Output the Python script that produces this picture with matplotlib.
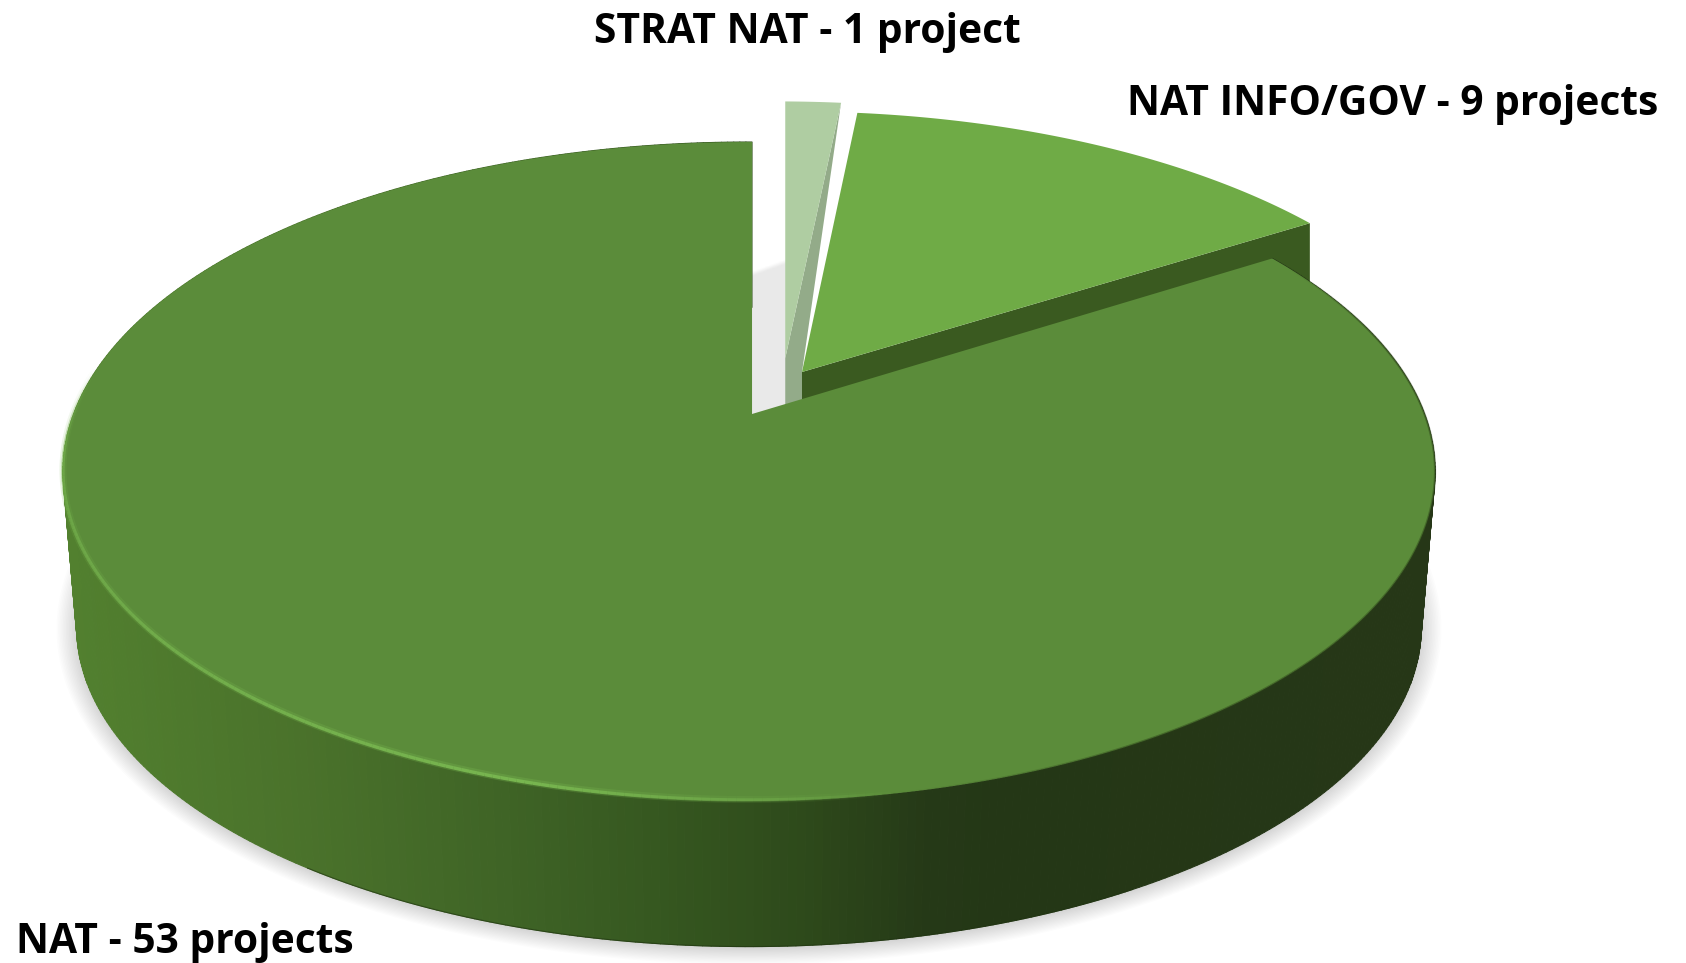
import numpy as np
import matplotlib
matplotlib.use("Agg")
import matplotlib.pyplot as plt
from matplotlib.collections import PolyCollection, LineCollection
from matplotlib.colors import to_rgb
from matplotlib.patches import Rectangle

# ---------- data ----------
categories = ["STRAT NAT", "NAT INFO/GOV", "NAT"]
projects = [1, 9, 53]
label_texts = ["STRAT NAT - 1 project", "NAT INFO/GOV - 9 projects", "NAT - 53 projects"]

# ---------- style ----------
TOP_COLORS = ["#AFCDA2", "#6FAB46", "#5B8C3A"]
WALL_COLORS = ["#93AB89", "#3A5A20"]
X0, R, K, Y0, P = 749.0, 675.5, 0.1745, 414.0, -247.2
START_ANGLE = 0.7
END_TRIM = 0.4
OFFSETS = [(0.0525, 0.18), (0.0803, 0.1346), (0.0, 0.0)]
MAIN_APEX_SHIFT = 0.0045
LOW_CX, LOW_SX, LOW_CY, LOW_SY, TOP_CY = 748.0, 0.98, 627.0, 0.97, 471.5


def project(u, v):
    d = 1 + K * v
    return X0 + R * u / d, (Y0 + P * v) / d


def rim(t0, t1, off=(0, 0), n=300):
    t = np.radians(np.linspace(t0, t1, n))
    return project(np.sin(t) + off[0], np.cos(t) + off[1]), np.degrees(t)


def lower(x, y):
    return LOW_CX + (x - LOW_CX) * LOW_SX, LOW_CY + (y - TOP_CY) * LOW_SY


values = np.array(projects, dtype=float)
edges = START_ANGLE + np.concatenate([[0], np.cumsum(values) / values.sum() * 360])

fig = plt.figure(figsize=(16.86, 9.63), dpi=100, facecolor="white")
ax = fig.add_axes([0, 0, 1, 1])
ax.set_xlim(0, 1686)
ax.set_ylim(963, 0)
ax.axis("off")

# ---------- soft shadow under the disk ----------
(mx, my), thetas = rim(edges[2], edges[3] - END_TRIM, n=500)
lx, ly = lower(mx, my)
(fx, fy), _ = rim(0, 360, n=500)
flx, fly = lower(fx, fy)
clip = Rectangle((0, 500), 1686, 463, transform=ax.transData)
for g in np.linspace(1, 0, 14):
    sx = LOW_CX + (flx - LOW_CX) * (1.0 + 0.03 * g)
    sy = LOW_CY + (fly - LOW_CY) * (1.0 + 0.05 * g) + 2
    patch = ax.fill(sx, sy, color="black", alpha=0.011, lw=0, zorder=1)[0]
    patch.set_clip_path(clip)

# ---------- shadow in the gap beside the small slice ----------
ma = project(MAIN_APEX_SHIFT, 0)
(sx, sy), _ = rim(edges[0], edges[1], OFFSETS[0], n=30)
sa = (sx[0], project(*OFFSETS[0])[1])
gap_h, gap_w = 120, 40
yy, xx = np.mgrid[0:1:gap_h * 1j, 0:1:gap_w * 1j]
alpha = 0.09 * np.clip(yy / 0.1, 0, 1) * np.clip((yy - 0.24) * 40 + (xx - 0.55) * 2.5, 0, 1)
img = np.zeros((gap_h, gap_w, 4))
img[..., 3] = alpha
ax.imshow(img, extent=(ma[0] - 1, sa[0], ma[1], ma[1] - 197), aspect="auto", zorder=1.5, interpolation="bilinear")
ax.set_xlim(0, 1686)
ax.set_ylim(963, 0)

# ---------- small exploded slice ----------
ia = project(*OFFSETS[1])
ax.fill([sx[-1], sa[0], sa[0], ia[0], ia[0]], [sy[-1], sa[1], sa[1] + 46, ia[1] + 30, ia[1]],
        color=WALL_COLORS[0], lw=0, zorder=2)
ax.fill(np.r_[sa[0], sx], np.r_[sa[1], sy], color=TOP_COLORS[0], lw=0, zorder=2.1)

# ---------- medium exploded slice ----------
(ix, iy), _ = rim(edges[1], edges[2], OFFSETS[1], n=120)
ax.fill([ia[0], ix[-1], ix[-1], ia[0]], [ia[1], iy[-1], iy[-1] + 160, ia[1] + 160],
        color=WALL_COLORS[1], lw=0, zorder=3)
ax.fill(np.r_[ia[0], ix], np.r_[ia[1], iy], color=TOP_COLORS[1], lw=0, zorder=3.1)

# ---------- wall of the large slice, shaded along x ----------
stop_x = [61, 300, 500, 650, 800, 930, 1000, 1434]
stop_c = ["#52802F", "#4A722B", "#3F6426", "#365820", "#2E4A1B", "#253917", "#243716", "#263717"]
stop_rgb = np.array([to_rgb(c) for c in stop_c])


def wall_color(x):
    return [np.interp(x, stop_x, stop_rgb[:, i]) for i in range(3)]


quads, cols = [], []
for i in range(len(mx) - 1):
    quads.append([(mx[i], my[i]), (mx[i + 1], my[i + 1]), (lx[i + 1], ly[i + 1]), (lx[i], ly[i])])
    cols.append(wall_color(0.5 * (mx[i] + mx[i + 1])))
ax.add_collection(PolyCollection(quads, facecolors=cols, edgecolors=cols, linewidths=0.8, zorder=4))

# thin dark line at the very bottom of the wall
ax.plot(lx[(thetas > 150) & (thetas < 215)], ly[(thetas > 150) & (thetas < 215)],
        color="#1F3310", lw=0.8, alpha=0.6, zorder=4.1)

# ---------- top of the large slice ----------
ax.fill(np.r_[ma[0], mx], np.r_[ma[1], my], color=TOP_COLORS[2], lw=0, zorder=5)

# ---------- light and dark rim along the front edge ----------
segs = np.stack([np.c_[mx[:-1], my[:-1]], np.c_[mx[1:], my[1:]]], axis=1)
mid_x = 0.5 * (mx[:-1] + mx[1:])
mid_t = 0.5 * (thetas[:-1] + thetas[1:])
front = np.interp(mid_t, [150, 170, 262, 278], [0, 1, 1, 0])
bright = np.interp(mid_x, [61, 150, 520, 800, 900], [0.55, 0.7, 1.0, 0.35, 0.0])
rgba = np.zeros((len(segs), 4))
rgba[:, :3] = to_rgb("#78B650")
rgba[:, 3] = bright * front
ax.add_collection(LineCollection(segs - np.array([0, 1.0]), colors=rgba, linewidths=2.4, zorder=5.2))
soft = rgba.copy()
soft[:, 3] *= 0.3
ax.add_collection(LineCollection(segs - np.array([0, 1.5]), colors=soft, linewidths=5, zorder=5.1))
dark = np.interp(mid_t, [60, 75, 150, 170], [0, 1, 1, 0])
drgba = np.zeros((len(segs), 4))
drgba[:, :3] = to_rgb("#2A4017")
drgba[:, 3] = 0.45 * dark
ax.add_collection(LineCollection(segs, colors=drgba, linewidths=1.6, zorder=5.2))

# ---------- labels ----------
font = dict(family="Open Sans", fontweight="bold", fontsize=29.3, color="black", zorder=10)
ax.text(594, 43, label_texts[0], ha="left", va="baseline", **font)
ax.text(1127, 115, label_texts[1], ha="left", va="baseline", **font)
ax.text(16, 953, label_texts[2], ha="left", va="baseline", **font)

fig.savefig("out.png", dpi=100, facecolor="white")
